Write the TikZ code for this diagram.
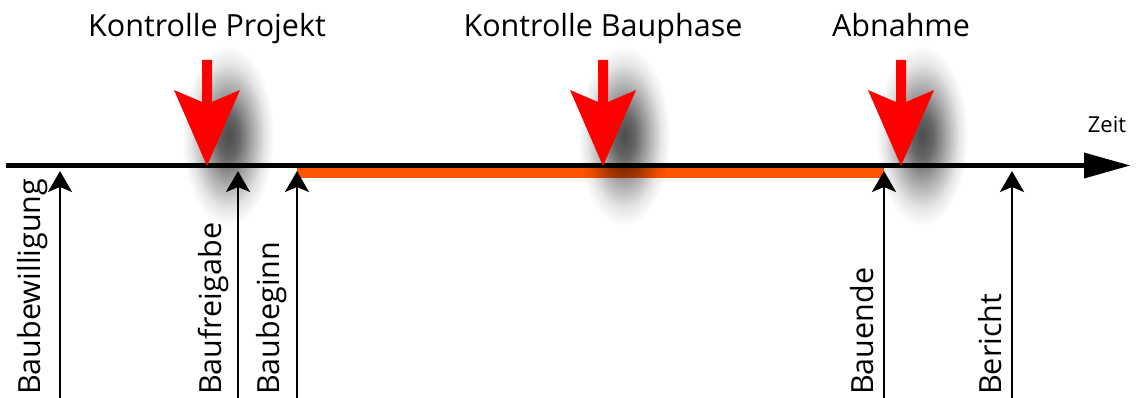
\documentclass[tikz,border=0pt]{standalone}
\usepackage{fontspec}
\setmainfont{Open Sans}
\usetikzlibrary{arrows.meta,fadings}
\definecolor{phase}{RGB}{255,85,0}
\definecolor{alarm}{RGB}{255,0,0}
% soft round shadow behind the review arrows
\pgfdeclareradialshading{shadowmask}{\pgfpoint{0bp}{0bp}}{%
  color(0bp)=(pgftransparent!30); color(6bp)=(pgftransparent!40);
  color(13bp)=(pgftransparent!66); color(20bp)=(pgftransparent!90);
  color(25bp)=(pgftransparent!100); color(50bp)=(pgftransparent!100)}
\pgfdeclarefading{softfade}{\pgfuseshading{shadowmask}}
\begin{document}
\begin{tikzpicture}[x=1pt,y=-1pt,
  title/.style={font=\fontsize{30.5}{30.5}\selectfont, inner sep=0pt, anchor=base},
  milestone/.style={font=\fontsize{30.5}{30.5}\selectfont, inner sep=0pt, rotate=90, anchor=base west},
  uparrow/.style={line width=2pt, -{Stealth[length=21pt,width=24pt,inset=5pt]}},
  blob/.style={fill=black, path fading=softfade}]
\useasboundingbox (0,0) rectangle (1146,398);

% time axis
\coordinate (t0) at (6,165.5);
\coordinate (t1) at (1084,165.5);
\coordinate (tip) at (1130,165.5);
\draw[line width=4.5pt] (t0) -- (t1);
\fill (t1) ++(0,-13) -- (tip) -- ++(-46,13) -- cycle;
\node[font=\fontsize{22}{22}\selectfont, inner sep=0pt, anchor=base] (zeit) at (1107,133) {Zeit};

% construction phase
\coordinate (ps) at (297,173);
\coordinate (pe) at (884,173);
\draw[phase, line width=10pt] (ps) -- (pe);

% review arrows with their shadows and captions
\foreach \n/\x/\txt in {kp/207/Kontrolle Projekt, kb/603/Kontrolle Bauphase, ab/901/Abnahme}{
  \node[title] (\n) at (\x,37) {\txt};
  \fill[blob] (\x+21,136) ellipse (46 and 90);
  \fill[alarm] (\x-5,60) -- (\x+5,60) -- (\x+5,102) -- (\x+33,90)
       -- (\x,166) -- (\x-33,90) -- (\x-5,102) -- cycle;
}

% milestones
\foreach \n/\x/\lx/\txt in {bw/60/40/Baubewilligung, bf/238/221/Baufreigabe,
                             bb/297/279/Baubeginn, be/884/873/Bauende, br/1012/1001/Bericht}{
  \coordinate (\n-foot) at (\x,398);
  \coordinate (\n-axis) at (\x,171);
  \draw[uparrow] (\n-foot) -- (\n-axis);
  \node[milestone] (\n) at (\lx,395) {\txt};
}
\end{tikzpicture}
\end{document}
